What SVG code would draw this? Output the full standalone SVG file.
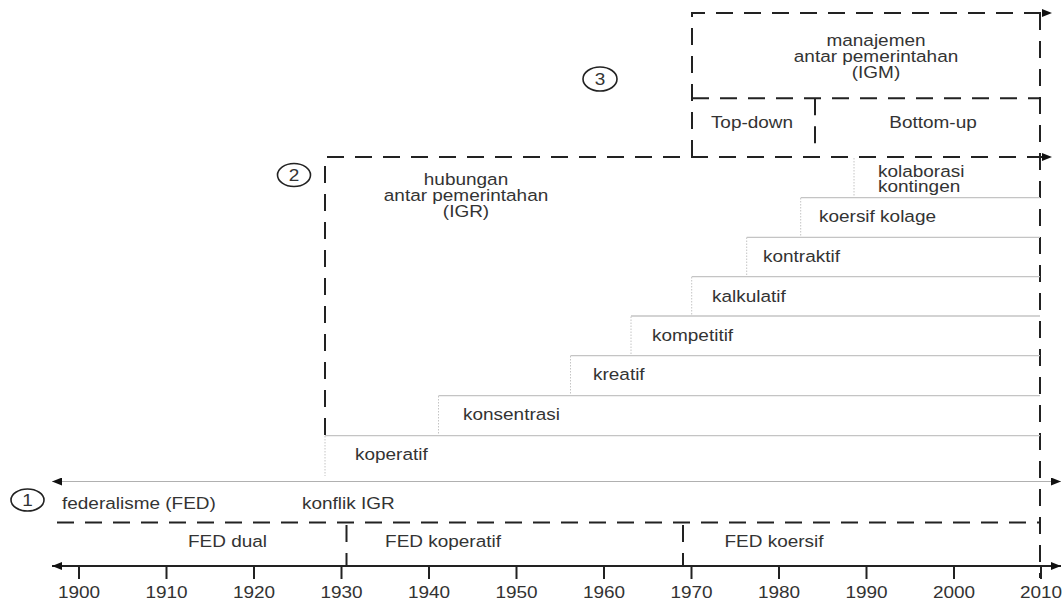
<svg xmlns="http://www.w3.org/2000/svg" width="1062" height="601" viewBox="0 0 1062 601">
<style>
text{font-family:"Liberation Sans",Arial,sans-serif;font-size:16.5px;fill:#333}
.m{text-anchor:middle}
.dash{fill:none;stroke:#222;stroke-width:2;stroke-dasharray:17 11}
.thin{fill:none;stroke:#c4c4c4;stroke-width:1.3}
.dot{fill:none;stroke:#c4c4c4;stroke-width:1;stroke-dasharray:1.5 1.5}
.axis{fill:none;stroke:#222;stroke-width:2}
.num{fill:none;stroke:#222;stroke-width:1.6}
</style>
<defs>
<marker id="ah" viewBox="0 0 10 8" refX="10" refY="4" markerWidth="10" markerHeight="8" markerUnits="userSpaceOnUse" orient="auto-start-reverse">
<path d="M0,0 L10,4 L0,8 z" fill="#111"/>
</marker>
</defs>
<rect width="1062" height="601" fill="#fff"/>

<g id="connectors">
<line class="axis" x1="52" y1="566" x2="1061" y2="566" marker-start="url(#ah)" marker-end="url(#ah)"/>
<g class="axis">
<line x1="79" y1="566" x2="79" y2="579"/><line x1="166.5" y1="566" x2="166.5" y2="579"/><line x1="254" y1="566" x2="254" y2="579"/><line x1="341.5" y1="566" x2="341.5" y2="579"/><line x1="429" y1="566" x2="429" y2="579"/><line x1="516.5" y1="566" x2="516.5" y2="579"/><line x1="604" y1="566" x2="604" y2="579"/><line x1="691.5" y1="566" x2="691.5" y2="579"/><line x1="779" y1="566" x2="779" y2="579"/><line x1="866.5" y1="566" x2="866.5" y2="579"/><line x1="954" y1="566" x2="954" y2="579"/><line x1="1041" y1="566" x2="1041" y2="579"/>
</g>
<line x1="52" y1="481.5" x2="1061" y2="481.5" stroke="#b0b0b0" stroke-width="1.2" marker-start="url(#ah)" marker-end="url(#ah)"/>
<line class="dash" x1="1040" y1="13" x2="1040" y2="578"/>
</g>

<g id="years">
<text class="m" transform="matrix(1.15 0 0 1 79 598)">1900</text>
<text class="m" transform="matrix(1.15 0 0 1 166.5 598)">1910</text>
<text class="m" transform="matrix(1.15 0 0 1 254 598)">1920</text>
<text class="m" transform="matrix(1.15 0 0 1 341.5 598)">1930</text>
<text class="m" transform="matrix(1.15 0 0 1 429 598)">1940</text>
<text class="m" transform="matrix(1.15 0 0 1 516.5 598)">1950</text>
<text class="m" transform="matrix(1.15 0 0 1 604 598)">1960</text>
<text class="m" transform="matrix(1.15 0 0 1 691.5 598)">1970</text>
<text class="m" transform="matrix(1.15 0 0 1 779 598)">1980</text>
<text class="m" transform="matrix(1.15 0 0 1 866.5 598)">1990</text>
<text class="m" transform="matrix(1.15 0 0 1 954 598)">2000</text>
<text class="m" transform="matrix(1.15 0 0 1 1041 598)">2010</text>
</g>

<g id="fed">
<ellipse class="num" cx="27.5" cy="500" rx="16.5" ry="11"/>
<text class="m" transform="matrix(1.15 0 0 1 27.5 506)">1</text>
<text transform="matrix(1.15 0 0 1 62 509)">federalisme (FED)</text>
<text transform="matrix(1.15 0 0 1 302 509)">konflik IGR</text>
<line class="dash" x1="57" y1="522.5" x2="1040" y2="522.5"/>
<line class="dash" x1="346.5" y1="525" x2="346.5" y2="566"/>
<line class="dash" x1="683" y1="525" x2="683" y2="566"/>
</g>
<g id="fed-dual"><text class="m" transform="matrix(1.15 0 0 1 227.5 547)">FED dual</text></g>
<g id="fed-koperatif"><text class="m" transform="matrix(1.15 0 0 1 443 547)">FED koperatif</text></g>
<g id="fed-koersif"><text class="m" transform="matrix(1.15 0 0 1 774 547)">FED koersif</text></g>

<g id="igr">
<ellipse class="num" cx="294" cy="175" rx="16.5" ry="11.5"/>
<text class="m" transform="matrix(1.15 0 0 1 294 181)">2</text>
<path class="dash" d="M325,435 L325,157 L1052,157" marker-end="url(#ah)"/>
<text class="m" transform="matrix(1.15 0 0 1 466 185)">hubungan</text>
<text class="m" transform="matrix(1.15 0 0 1 466 201)">antar pemerintahan</text>
<text class="m" transform="matrix(1.15 0 0 1 466 217)">(IGR)</text>
</g>

<g id="steps">
<line class="dot" x1="325" y1="436" x2="325" y2="476"/>
<line class="thin" x1="325" y1="435.7" x2="1040" y2="435.7"/>
<line class="dot" x1="438.5" y1="396" x2="438.5" y2="435"/>
<line class="thin" x1="438.5" y1="395.7" x2="1040" y2="395.7"/>
<line class="dot" x1="570.5" y1="356" x2="570.5" y2="395"/>
<line class="thin" x1="570.5" y1="355.7" x2="1040" y2="355.7"/>
<line class="dot" x1="631" y1="316.5" x2="631" y2="355"/>
<line class="thin" x1="631" y1="316" x2="1040" y2="316"/>
<line class="dot" x1="691.7" y1="277" x2="691.7" y2="316"/>
<line class="thin" x1="691.7" y1="276.7" x2="1040" y2="276.7"/>
<line class="dot" x1="746.7" y1="237.5" x2="746.7" y2="276"/>
<line class="thin" x1="746.7" y1="237.3" x2="1040" y2="237.3"/>
<line class="dot" x1="800.7" y1="198" x2="800.7" y2="237"/>
<line class="thin" x1="800.7" y1="197.7" x2="1040" y2="197.7"/>
<line class="dot" x1="854" y1="158" x2="854" y2="197"/>
</g>
<g id="koperatif"><text transform="matrix(1.15 0 0 1 355 460)">koperatif</text></g>
<g id="konsentrasi"><text transform="matrix(1.15 0 0 1 463 420)">konsentrasi</text></g>
<g id="kreatif"><text transform="matrix(1.15 0 0 1 593 380)">kreatif</text></g>
<g id="kompetitif"><text transform="matrix(1.15 0 0 1 652 341)">kompetitif</text></g>
<g id="kalkulatif"><text transform="matrix(1.15 0 0 1 712 302)">kalkulatif</text></g>
<g id="kontraktif"><text transform="matrix(1.15 0 0 1 763 262)">kontraktif</text></g>
<g id="koersif-kolage"><text transform="matrix(1.15 0 0 1 819 222)">koersif kolage</text></g>
<g id="kolaborasi-kontingen">
<text transform="matrix(1.15 0 0 1 878 177)">kolaborasi</text>
<text transform="matrix(1.15 0 0 1 878 192)">kontingen</text>
</g>

<g id="igm">
<ellipse class="num" cx="600" cy="79" rx="17" ry="12"/>
<text class="m" transform="matrix(1.15 0 0 1 600 85)">3</text>
<path class="dash" d="M692,157 L692,13 L1052,13" marker-end="url(#ah)"/>
<line class="dash" x1="692" y1="98.3" x2="1040" y2="98.3"/>
<text class="m" transform="matrix(1.15 0 0 1 876 46)">manajemen</text>
<text class="m" transform="matrix(1.15 0 0 1 876 62)">antar pemerintahan</text>
<text class="m" transform="matrix(1.15 0 0 1 876 78)">(IGM)</text>
</g>
<g id="top-down">
<line class="dash" x1="815" y1="98.3" x2="815" y2="150"/>
<text class="m" transform="matrix(1.15 0 0 1 752 128)">Top-down</text>
</g>
<g id="bottom-up"><text class="m" transform="matrix(1.15 0 0 1 933 128)">Bottom-up</text></g>
</svg>
